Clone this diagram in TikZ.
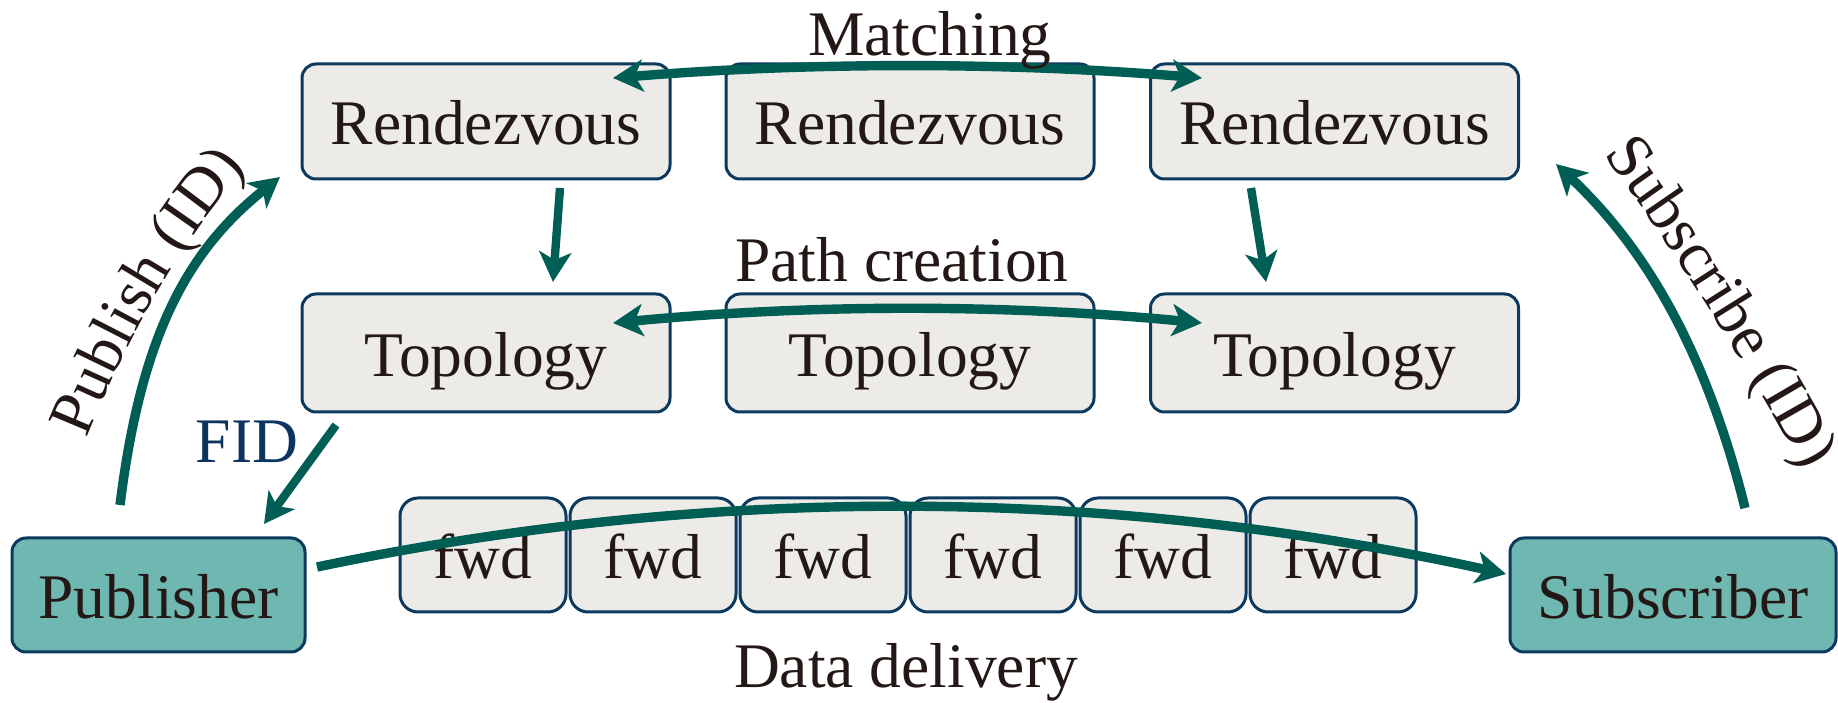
\documentclass[tikz,border=0pt]{standalone}
\usepackage{fontspec}
\setmainfont{Liberation Serif}
\usetikzlibrary{arrows.meta,decorations.text}
\definecolor{teal1}{HTML}{005E54}
\definecolor{navy}{HTML}{0B3A5E}
\definecolor{boxfill}{HTML}{EDEBE8}
\definecolor{pubfill}{HTML}{6FB8B2}
\definecolor{ink}{HTML}{231815}
\definecolor{fidblue}{HTML}{0B3560}
\newcommand\bigfont{\fontsize{31.75}{38}\selectfont}
\newcommand\curvefont{\fontsize{31.75}{38}\selectfont\color{ink}}
\begin{document}
\begin{tikzpicture}[x=0.5pt,y=0.5pt,
  >={Stealth[length=15pt,width=16pt,inset=4pt]},
  box/.style={draw=navy, line width=1.5pt, rounded corners=7pt, fill=boxfill,
    inner sep=0pt, text=ink, font=\bigfont, text height=28.5pt, text depth=5pt},
  rbox/.style={box, minimum width=184pt, minimum height=57.5pt},
  tbox/.style={box, minimum width=184pt, minimum height=59pt},
  fbox/.style={box, rounded corners=9pt, minimum width=83pt, minimum height=57pt},
  pbox/.style={box, fill=pubfill, minimum width=146.5pt, minimum height=57pt},
  sbox/.style={box, fill=pubfill, minimum width=163pt, minimum height=57pt},
  flow/.style={draw=teal1, line width=4.7pt},
  thinflow/.style={draw=teal1, line width=4.2pt},
  lbl/.style={font=\bigfont, text=ink, inner sep=0pt, anchor=base}]
\useasboundingbox (0,0) rectangle (1838,702);

% nodes
\node[rbox] (R1) at (486,580.5) {Rendezvous};
\node[rbox] (R2) at (910,580.5) {Rendezvous};
\node[rbox] (R3) at (1334.5,580.5) {Rendezvous};
\node[tbox] (T1) at (486,349) {Topology};
\node[tbox] (T2) at (910,349) {Topology};
\node[tbox] (T3) at (1334.5,349) {Topology};
\foreach \i in {0,...,5} {
  \node[fbox] (F\i) at (483+170*\i,147) {fwd};
}
\node[pbox] (Pub) at (158.5,107) {Publisher};
\node[sbox] (Sub) at (1673,107) {Subscriber};

% connector end points
\coordinate (m1) at (613,624);
\coordinate (m2) at (1202,624);
\coordinate (p1) at (613,379);
\coordinate (p2) at (1202,379);
\coordinate (v1a) at (560,514);
\coordinate (v1b) at (553,420);
\coordinate (v2a) at (1251,514);
\coordinate (v2b) at (1266,420);
\coordinate (f1) at (336,277);
\coordinate (f2) at (264,178);
\coordinate (a1) at (120,197);
\coordinate (a2) at (280,525);
\coordinate (s1) at (1745,194);
\coordinate (s2) at (1556,538);
\coordinate (d1) at (317,135);
\coordinate (d2) at (1506,128);

% connectors
\draw[flow,<->] (m1) .. controls (810,640) and (1006,640) .. (m2);
\draw[flow,<->] (p1) .. controls (810,398) and (1006,398) .. (p2);
\draw[thinflow,->] (v1a) -- (v1b);
\draw[thinflow,->] (v2a) -- (v2b);
\draw[thinflow,->] (f1) -- (f2);
\draw[flow,->] (a1) .. controls (141,366) and (187,451) .. (a2);
\draw[flow,->] (s1) .. controls (1704,359) and (1641,458) .. (s2);
\draw[flow,->] (d1) .. controls (713,218) and (1109,215) .. (d2);

% labels
\node[lbl] (lm) at (930,646) {Matching};
\node[lbl] (lp) at (902,420) {Path creation};
\node[lbl] (ld) at (906,15) {Data delivery};
\node[lbl, text=fidblue] (lf) at (247,239) {FID};

\path[decorate, decoration={text along path, text align=center,
   text={|\curvefont|Publish (ID)}}]
  (67,212) .. controls (120,356) and (180,466) .. (282,577);
\path[decorate, decoration={text along path, text align=center,
   text={|\curvefont|Subscribe (ID)}}]
  (1575,585) .. controls (1667,467) and (1757,322) .. (1827,190);
\end{tikzpicture}
\end{document}
